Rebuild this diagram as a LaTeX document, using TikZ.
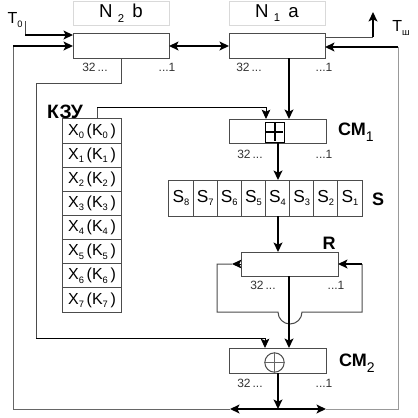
\documentclass[tikz,border=0pt]{standalone}
\usepackage{fontspec}
\setmainfont{Liberation Sans}
\usetikzlibrary{arrows.meta}
\newcommand\sbs[1]{\raisebox{-0.2em}{\fontsize{7}{7}\selectfont #1}}
\newcommand\bsub[1]{\raisebox{-0.35em}{\fontsize{10.5}{10.5}\selectfont\mdseries #1}}
\begin{document}
\begin{tikzpicture}[x=0.75pt,y=-0.75pt,
  thinln/.style={draw=black!70,line width=0.75pt},
  grayln/.style={draw=black!40,line width=0.75pt},
  thickln/.style={draw=black,line width=1.5pt},
  arr/.style={-{Stealth[length=7pt,width=6.5pt,inset=1.5pt,color=black]}},
  bothtip/.style={{Stealth[length=7pt,width=6.5pt,inset=1.5pt]}-{Stealth[length=7pt,width=6.5pt,inset=1.5pt]}},
  reg/.style={draw=black!70,line width=0.75pt,fill=white,inner sep=0pt,outer sep=0pt,minimum width=72.75pt,minimum height=18pt},
  lblbox/.style={draw=black!15,line width=0.75pt,inner sep=0pt,outer sep=0pt,minimum width=72pt,minimum height=18pt,font=\fontsize{14}{15}\selectfont},
  scell/.style={draw=black!70,line width=0.75pt,inner sep=0pt,outer sep=0pt,minimum width=18.1pt,minimum height=27pt,font=\fontsize{13}{14}\selectfont},
  keycell/.style={draw=black!70,line width=0.75pt,inner sep=0pt,outer sep=0pt,minimum width=45pt,minimum height=18.1pt,font=\fontsize{12}{13}\selectfont},
  bitlbl/.style={font=\fontsize{9}{10}\selectfont,text=black!80,inner sep=0pt},
  bname/.style={font=\bfseries\fontsize{13.5}{14}\selectfont,inner sep=0pt},
  siglbl/.style={font=\fontsize{12}{13}\selectfont,inner sep=0pt},
]
\useasboundingbox[fill=white] (0,0) rectangle (418,418);

% x helper coordinates
\coordinate (x13) at (13,0);
\coordinate (x36) at (36,0);
\coordinate (x97) at (97,0);
\coordinate (x121) at (121,0);
\coordinate (x217) at (217,0);
\coordinate (x232) at (232,0);
\coordinate (x265) at (265,0);
\coordinate (x266) at (266,0);
\coordinate (x278) at (278,0);
\coordinate (x289) at (289,0);
\coordinate (x362) at (362,0);
\coordinate (x398) at (398,0);

% registers
\node[lblbox] (n2l) at (121,13) {N\;\raisebox{-0.25em}{\fontsize{8.5}{8.5}\selectfont 2}\;\,b};
\node[lblbox] (n1l) at (277,13) {N\;\raisebox{-0.25em}{\fontsize{8.5}{8.5}\selectfont 1}\;\,a};
\node[reg,minimum width=72pt,minimum height=18.75pt] (n2) at (121,45.5) {};
\node[reg,minimum width=72pt,minimum height=18.75pt] (n1) at (277,45.5) {};
\node[reg] (cm1) at (277.5,131) {};
\node[reg] (r) at (289.5,264) {};
\node[reg,minimum height=18.75pt] (cm2) at (277.5,360.5) {};

% adder symbols
\node[draw=black,line width=0.75pt,inner sep=0pt,minimum width=14.25pt,minimum height=15pt] (pl) at (274.5,132) {};
\draw[line width=1.5pt] ([yshift=-1pt]pl.north) -- ([yshift=1pt]pl.south);
\draw[line width=1.5pt] ([xshift=1pt]pl.west) -- ([xshift=-1pt]pl.east);
\node[circle,draw=black!70,line width=0.75pt,inner sep=0pt,minimum size=14.5pt] (xo) at (274.5,362.5) {};
\draw[black!60,line width=0.6pt] (xo.north) -- (xo.south);
\draw[black!60,line width=0.6pt] (xo.west) -- (xo.east);

% S boxes
\foreach \i in {0,...,7}{
  \pgfmathtruncatemacro\s{8-\i}
  \node[scell] (s\s) at ({181.06+24.125*\i},198) {S\sbs{\s}};
}
% key store
\foreach \i in {0,...,7}{
  \node[keycell] (k\i) at (92,{131.06+24.125*\i}) [minimum width=44.25pt] {X\sbs{\i}\,(K\sbs{\i}\,)};
}

% bit labels
\node[bitlbl] at (95,67) {32\,...};  \node[bitlbl] at (167,67) {...1};
\node[bitlbl] at (249,67) {32\,...}; \node[bitlbl] at (324,67) {...1};
\node[bitlbl] at (250,154) {32\,...}; \node[bitlbl] at (324,154) {...1};
\node[bitlbl] at (263,285) {32\,...}; \node[bitlbl] at (336,285) {...1};
\node[bitlbl] at (250,383) {32\,...}; \node[bitlbl] at (324,383) {...1};

% names
\node[bname,font=\bfseries\fontsize{14.5}{15}\selectfont] (kzu) at (65,112) {КЗУ};
\node[bname] (cm1n) at (356,132) {СМ\bsub{1}};
\node[bname] (cm2n) at (357,363) {СМ\bsub{2}};
\node[bname] (sn) at (378,199) {S};
\node[bname] (rn) at (329,243) {R};
\node[siglbl] (t0) at (15,20) {T\sbs{0}};
\node[siglbl] (tsh) at (401,28) {T\sbs{ш}};

% bottom bus
\coordinate (busL) at (230,409);
\coordinate (busR) at (326,409);
\draw[thickln,bothtip] (busL) -- (busR);
\draw[thickln,arr] (cm2.south -| x278) -- (busL -| x278);

% left loop to N2b
\coordinate (lc) at (13,46);
\draw[grayln,draw=black!60] (busL) -- (busL -| x13) -- (lc);
\draw[thickln,arr] (lc) -- (n2.west |- lc);
% T0
\coordinate (t0s) at (25,21);
\coordinate (t0c) at (25,35);
\draw[thinln] (t0s) -- (t0c);
\draw[thickln,arr] (t0c) -- (n2.west |- t0c);

% N2b <-> N1a
\draw[thickln,bothtip] (n2.east |- lc) -- (n1.west |- lc);

% right loop to N1a
\coordinate (rc) at (398,47);
\draw[grayln] (busR) -- (busR -| x398) -- (rc);
\draw[thickln,arr] (rc) -- (n1.east |- rc);

% T_sh
\coordinate (tshc) at (373,37);
\coordinate (tshe) at (373,12);
\draw[thinln] (n1.east |- tshc) -- (tshc);
\draw[thickln,arr] (tshc) -- (tshe);

% N1a -> CM1
\draw[thickln,arr] (n1.south -| x289) -- (cm1.north -| x289);
% KZU -> CM1
\coordinate (kz) at (97,107);
\draw[thinln] (k0.north -| x97) -- (kz);
\draw[thinln,draw=black,arr] (kz) -- (kz -| x266) -- (cm1.north -| x266);

% CM1 -> S -> R
\draw[thickln,arr] (cm1.south -| x278) -- (s4.north -| x278);
\draw[thickln,arr] (s4.south -| x278) -- (r.north -| x278);

% R rotation loop
\coordinate (rl) at (217,312);
\coordinate (rr) at (362,312);
\draw[thinln,draw=black,arr] (r.west) -- (r.west -| x232);
\draw[thinln] (r.west -| x232) -- (r.west -| x217) -- (rl) -- (278,312)
   arc[start angle=180,end angle=0,radius=12] -- (rr) -- (r.east -| x362);
\draw[thickln,arr] (r.east -| x362) -- (r.east);

% R -> CM2
\draw[thickln,arr] (r.south -| x289) -- (cm2.north -| x289);

% N2b -> CM2
\coordinate (a1) at (121,83);
\coordinate (a2) at (36,338);
\draw[thinln] (n2.south -| x121) -- (a1) -- (a1 -| x36) -- (a2);
\draw[thinln,draw=black,arr] (a2) -- (a2 -| x265) -- (cm2.north -| x265);
\end{tikzpicture}
\end{document}
